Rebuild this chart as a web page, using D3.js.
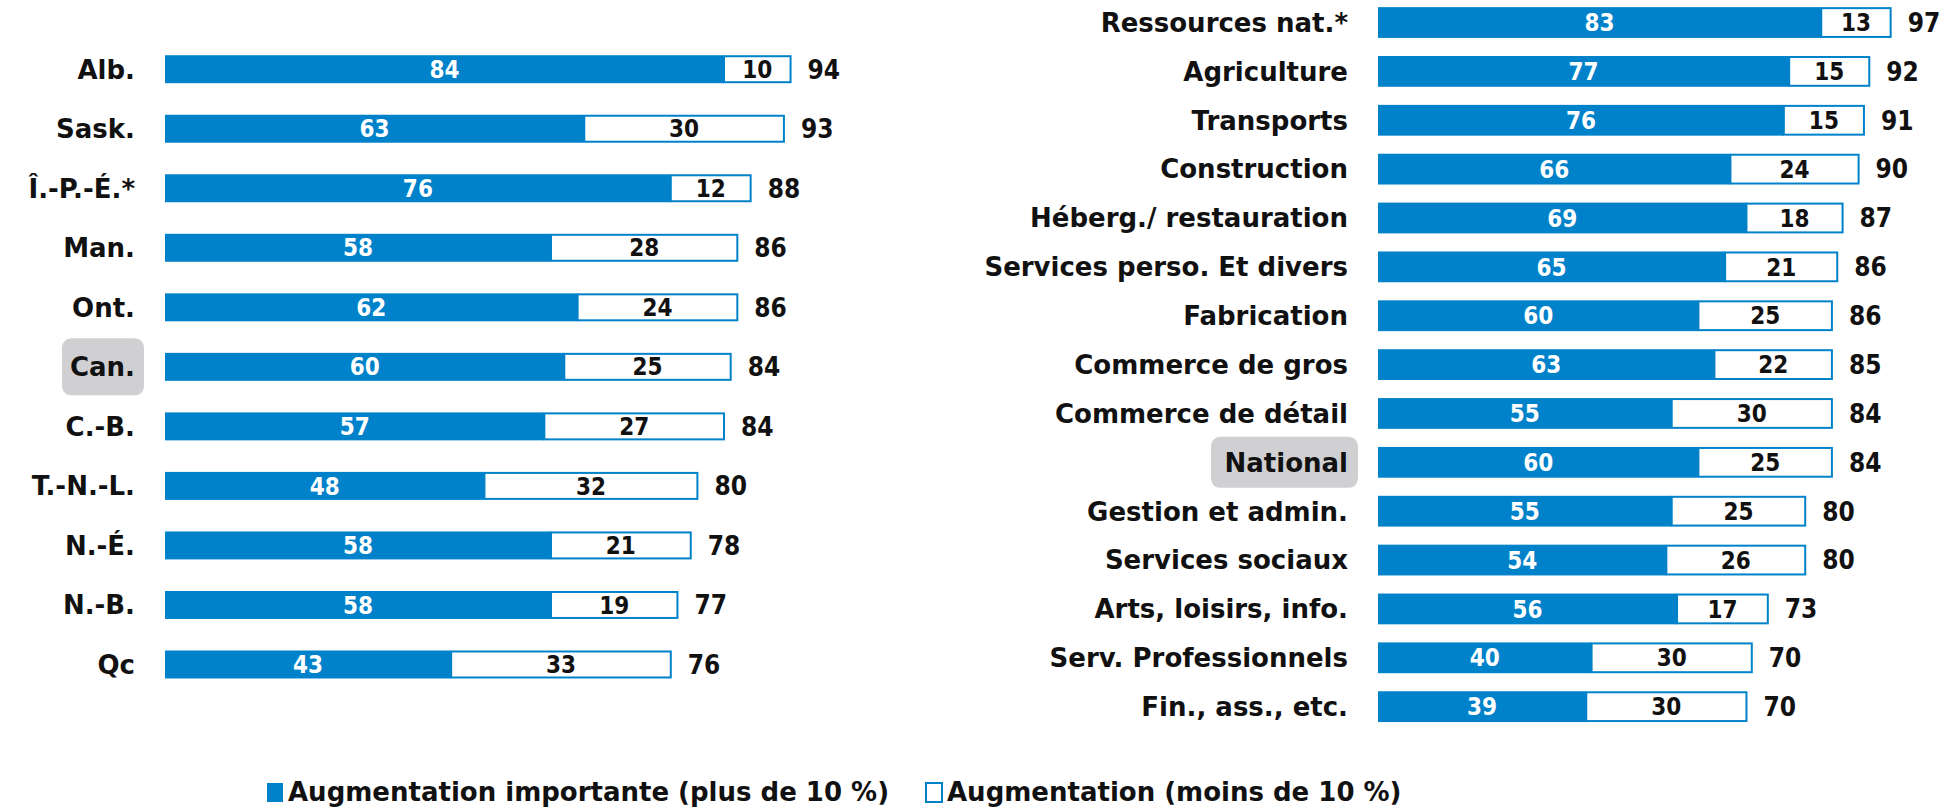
<!DOCTYPE html>
<html>
<head>
<meta charset="utf-8">
<script src="https://cdn.jsdelivr.net/npm/d3@7"></script>
<style>
  body { margin: 0; background: #fff; }
  svg text { font-family: "DejaVu Sans", Verdana, sans-serif; font-weight: bold; }
  svg text.num { font-family: "DejaVu Sans Condensed", "DejaVu Sans", sans-serif; font-stretch: condensed; }
</style>
</head>
<body>
<div id="chart"></div>
<script>
// provinces (left panel)
var provinces = ["Alb.", "Sask.", "Î.-P.-É.*", "Man.", "Ont.", "Can.", "C.-B.", "T.-N.-L.", "N.-É.", "N.-B.", "Qc"];
var provMajor = [84, 63, 76, 58, 62, 60, 57, 48, 58, 58, 43];
var provMinor = [10, 30, 12, 28, 24, 25, 27, 32, 21, 19, 33];
var provTotal = [94, 93, 88, 86, 86, 84, 84, 80, 78, 77, 76];

// sectors (right panel)
var sectors = ["Ressources nat.*", "Agriculture", "Transports", "Construction", "Héberg./ restauration",
  "Services perso. Et divers", "Fabrication", "Commerce de gros", "Commerce de détail", "National",
  "Gestion et admin.", "Services sociaux", "Arts, loisirs, info.", "Serv. Professionnels", "Fin., ass., etc."];
var secMajor = [83, 77, 76, 66, 69, 65, 60, 63, 55, 60, 55, 54, 56, 40, 39];
var secMinor = [13, 15, 15, 24, 18, 21, 25, 22, 30, 25, 25, 26, 17, 30, 30];
var secTotal = [97, 92, 91, 90, 87, 86, 86, 85, 84, 84, 80, 80, 73, 70, 70];

var legendLabels = ["Augmentation importante (plus de 10 %)", "Augmentation (moins de 10 %)"];

var width = 1957;
var height = 809;
var blue = "rgb(0,130,202)";

var svg = d3.select("#chart").append("svg")
    .attr("width", width)
    .attr("height", height);

// draws one stacked bar panel
function panel(cats, major, minor, total, xRange, yRange, pad, highlight, hlBox) {
  var x = d3.scaleLinear().domain([0, 100]).range(xRange);
  var y = d3.scaleBand().domain(cats).range(yRange).paddingInner(pad).paddingOuter(pad / 2);
  var bh = y.bandwidth();
  var rows = cats.map(function(c, i) {
    return {cat: c, major: major[i], minor: minor[i], total: total[i]};
  });

  var g = svg.append("g");

  // grey box behind the reference row
  g.append("rect")
    .attr("x", hlBox[0])
    .attr("y", y(highlight) + bh / 2 - hlBox[2] / 2)
    .attr("width", hlBox[1])
    .attr("height", hlBox[2])
    .attr("rx", 9)
    .attr("fill", "#d0d0d2");

  var row = g.selectAll("g.row").data(rows).enter().append("g").attr("class", "row");

  row.append("rect")
    .attr("x", function(d) { return x(d.major); })
    .attr("y", function(d) { return y(d.cat) + 1; })
    .attr("width", function(d) { return x(d.major + d.minor) - x(d.major); })
    .attr("height", bh - 2)
    .attr("fill", "#fff")
    .attr("stroke", blue)
    .attr("stroke-width", 2);

  row.append("rect")
    .attr("x", x(0))
    .attr("y", function(d) { return y(d.cat); })
    .attr("width", function(d) { return x(d.major) - x(0); })
    .attr("height", bh)
    .attr("fill", blue);

  row.append("text")
    .attr("x", x(0) - 30)
    .attr("y", function(d) { return y(d.cat) + bh / 2; })
    .attr("dy", "0.36em")
    .attr("text-anchor", "end")
    .attr("font-size", 26)
    .attr("fill", "#111")
    .text(function(d) { return d.cat; });

  row.append("text")
    .attr("class", "num")
    .attr("x", function(d) { return (x(0) + x(d.major)) / 2; })
    .attr("y", function(d) { return y(d.cat) + bh / 2; })
    .attr("dy", "0.36em")
    .attr("text-anchor", "middle")
    .attr("font-size", 24)
    .attr("fill", "#fff")
    .text(function(d) { return d.major; });

  row.append("text")
    .attr("class", "num")
    .attr("x", function(d) { return (x(d.major) + x(d.major + d.minor)) / 2; })
    .attr("y", function(d) { return y(d.cat) + bh / 2; })
    .attr("dy", "0.36em")
    .attr("text-anchor", "middle")
    .attr("font-size", 24)
    .attr("fill", "#111")
    .text(function(d) { return d.minor; });

  row.append("text")
    .attr("class", "num")
    .attr("x", function(d) { return x(d.major + d.minor) + 17; })
    .attr("y", function(d) { return y(d.cat) + bh / 2; })
    .attr("dy", "0.36em")
    .attr("font-size", 26)
    .attr("fill", "#111")
    .text(function(d) { return d.total; });
}

panel(provinces, provMajor, provMinor, provTotal, [165, 830.5], [39.45, 694.25], 0.53, "Can.", [62, 82, 57]);
panel(sectors, secMajor, secMinor, secTotal, [1378, 1912], [-1.9, 731.1], 0.37, "National", [1211, 147, 51]);

// legend
var legend = svg.append("g").attr("transform", "translate(0,792)");
var lx = [266, 925];
legendLabels.forEach(function(t, i) {
  legend.append("rect")
    .attr("x", lx[i] + 1)
    .attr("y", -9)
    .attr("width", 16)
    .attr("height", 19)
    .attr("fill", i === 0 ? blue : "#fff")
    .attr("stroke", blue)
    .attr("stroke-width", i === 0 ? 0 : 2);
  legend.append("text")
    .attr("x", lx[i] + 22)
    .attr("y", 0)
    .attr("dy", "0.36em")
    .attr("font-size", 26)
    .attr("fill", "#111")
    .text(t);
});
</script>
</body>
</html>
